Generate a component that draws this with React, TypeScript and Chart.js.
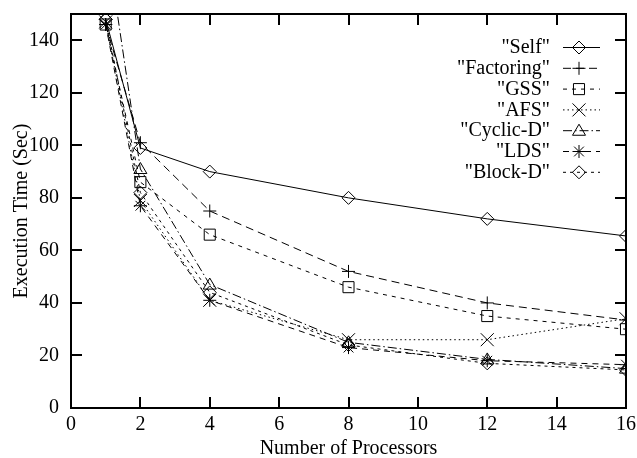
import React, { useEffect, useRef } from "react";
import { Chart, registerables } from "chart.js";

Chart.register(...registerables);

const processors = [1, 2, 4, 8, 12, 16];
const selfTimes = [148, 99, 90, 80, 72, 65.5];
const factoringTimes = [146, 101, 75, 52, 40, 33.5];
const gssTimes = [146, 86, 66, 46, 35, 30];
const afsTimes = [147, 79, 41, 26, 26, 34];
const cyclicTimes = [180, 91, 47, 25, 18.5, 15];
const ldsTimes = [146, 77, 41, 23, 18, 16.5];
const blockTimes = [148, 82, 44, 24, 17, 14.5];

const seriesLabels = ['"Self"', '"Factoring"', '"GSS"', '"AFS"', '"Cyclic-D"', '"LDS"', '"Block-D"'];
const xTickValues = [0, 2, 4, 6, 8, 10, 12, 14, 16];
const yTickValues = [0, 20, 40, 60, 80, 100, 120, 140];

const FONT = "'Liberation Serif', 'DejaVu Serif', serif";
const FSIZE = 20;

function drawMarker(ctx: CanvasRenderingContext2D, style: string, x: number, y: number, r: number) {
  ctx.beginPath();
  if (style === "diamond") {
    ctx.moveTo(x, y - r);
    ctx.lineTo(x + r, y);
    ctx.lineTo(x, y + r);
    ctx.lineTo(x - r, y);
    ctx.closePath();
  } else if (style === "plus") {
    ctx.moveTo(x - r, y);
    ctx.lineTo(x + r, y);
    ctx.moveTo(x, y - r);
    ctx.lineTo(x, y + r);
  } else if (style === "square") {
    ctx.rect(x - r * 0.85, y - r * 0.85, r * 1.7, r * 1.7);
  } else if (style === "cross") {
    ctx.moveTo(x - r, y - r);
    ctx.lineTo(x + r, y + r);
    ctx.moveTo(x - r, y + r);
    ctx.lineTo(x + r, y - r);
  } else if (style === "triangle") {
    ctx.moveTo(x, y - r);
    ctx.lineTo(x + r, y + r * 0.7);
    ctx.lineTo(x - r, y + r * 0.7);
    ctx.closePath();
  } else if (style === "star") {
    ctx.moveTo(x - r, y);
    ctx.lineTo(x + r, y);
    ctx.moveTo(x, y - r);
    ctx.lineTo(x, y + r);
    ctx.moveTo(x - r * 0.75, y - r * 0.75);
    ctx.lineTo(x + r * 0.75, y + r * 0.75);
    ctx.moveTo(x - r * 0.75, y + r * 0.75);
    ctx.lineTo(x + r * 0.75, y - r * 0.75);
  }
  ctx.stroke();
}

const markerStyles = ["diamond", "plus", "square", "cross", "triangle", "star", "diamond"];
const dashes: number[][] = [[], [8, 5], [4, 5], [1.5, 3], [9, 3, 1.5, 3], [6, 5], [3, 4]];

const markerPlugin = {
  id: "gnuMarkers",
  afterDatasetsDraw(chart: any) {
    const ctx = chart.ctx as CanvasRenderingContext2D;
    const area = chart.chartArea;
    ctx.save();
    ctx.beginPath();
    ctx.rect(area.left - 1, area.top - 1, area.right - area.left + 2, area.bottom - area.top + 2);
    ctx.clip();
    ctx.strokeStyle = "#000";
    ctx.lineWidth = 1;
    ctx.setLineDash([]);
    chart.data.datasets.forEach((ds: any, i: number) => {
      const meta = chart.getDatasetMeta(i);
      meta.data.forEach((pt: any) => {
        if (pt.y < area.top - 8) return;
        drawMarker(ctx, markerStyles[i], pt.x, pt.y, 6.5);
      });
    });
    ctx.restore();
  },
};

const framePlugin = {
  id: "gnuFrame",
  afterDraw(chart: any) {
    const ctx = chart.ctx as CanvasRenderingContext2D;
    const { left, right, top, bottom } = chart.chartArea;
    const xs = chart.scales.x;
    const ys = chart.scales.y;
    ctx.save();
    ctx.strokeStyle = "#000";
    ctx.lineWidth = 2;
    ctx.setLineDash([]);
    ctx.strokeRect(left, top, right - left, bottom - top);
    const tl = 11;
    ctx.beginPath();
    xTickValues.forEach((v) => {
      const px = Math.round(xs.getPixelForValue(v));
      ctx.moveTo(px, bottom);
      ctx.lineTo(px, bottom - tl);
      ctx.moveTo(px, top);
      ctx.lineTo(px, top + tl);
    });
    yTickValues.forEach((v) => {
      const py = Math.round(ys.getPixelForValue(v));
      ctx.moveTo(left, py);
      ctx.lineTo(left + tl, py);
      ctx.moveTo(right, py);
      ctx.lineTo(right - tl, py);
    });
    ctx.stroke();

    // legend
    const textRight = 550;
    const lineStart = 563;
    const lineEnd = 600;
    const markX = 579;
    const row0 = 47;
    const rowH = 20.8;
    ctx.font = `${FSIZE}px ${FONT}`;
    ctx.fillStyle = "#000";
    ctx.textAlign = "right";
    ctx.textBaseline = "middle";
    seriesLabels.forEach((label, i) => {
      const y = row0 + i * rowH;
      ctx.fillText(label, textRight, y + 1);
      ctx.lineWidth = 1;
      ctx.setLineDash(dashes[i]);
      ctx.beginPath();
      ctx.moveTo(lineStart, y + 0.5);
      ctx.lineTo(lineEnd, y + 0.5);
      ctx.stroke();
      ctx.setLineDash([]);
      drawMarker(ctx, markerStyles[i], markX, y + 0.5, 6.5);
    });
    ctx.restore();
  },
};

export default function App() {
  const ref = useRef<HTMLCanvasElement | null>(null);
  useEffect(() => {
    document.body.style.margin = "0";
    const canvas = ref.current;
    if (!canvas) return;
    const allSeries = [selfTimes, factoringTimes, gssTimes, afsTimes, cyclicTimes, ldsTimes, blockTimes];
    const chart = new Chart(canvas, {
      type: "line",
      data: {
        datasets: allSeries.map((vals, i) => ({
          label: seriesLabels[i],
          data: processors.map((p, j) => ({ x: p, y: vals[j] })),
          borderColor: "#000",
          backgroundColor: "#000",
          borderWidth: 1,
          borderDash: dashes[i],
          pointRadius: 0,
          pointHoverRadius: 0,
          tension: 0,
          fill: false,
        })),
      },
      options: {
        responsive: false,
        animation: false,
        events: [],
        layout: { padding: { top: 14, right: 11, left: 0, bottom: 0 } },
        plugins: {
          legend: { display: false },
          tooltip: { enabled: false },
        },
        scales: {
          x: {
            type: "linear",
            min: 0,
            max: 16,
            afterBuildTicks: (s: any) => {
              s.ticks = xTickValues.map((v) => ({ value: v }));
            },
            afterFit: (s: any) => {
              s.height = 50;
              s.paddingLeft = 0;
              s.paddingRight = 0;
            },
            grid: { display: false, drawTicks: false },
            border: { display: false },
            ticks: {
              color: "#000",
              padding: 5,
              maxRotation: 0,
              font: { family: FONT, size: FSIZE },
            },
            title: {
              display: true,
              text: "Number of Processors",
              color: "#000",
              padding: { top: 0, bottom: -3 },
              font: { family: FONT, size: FSIZE },
            },
          },
          y: {
            type: "linear",
            min: 0,
            max: 150,
            afterBuildTicks: (s: any) => {
              s.ticks = yTickValues.map((v) => ({ value: v }));
            },
            afterFit: (s: any) => {
              s.width = 71;
              s.paddingTop = 0;
              s.paddingBottom = 0;
            },
            grid: { display: false, drawTicks: false },
            border: { display: false },
            ticks: {
              color: "#000",
              padding: 12,
              font: { family: FONT, size: FSIZE },
            },
            title: {
              display: true,
              text: "Execution Time (Sec)",
              color: "#000",
              padding: { top: 10, bottom: 0 },
              font: { family: FONT, size: FSIZE },
            },
          },
        },
      },
      plugins: [markerPlugin, framePlugin],
    });
    return () => chart.destroy();
  }, []);
  return (
    <div style={{ width: 637, height: 458 }}>
      <canvas ref={ref} width={637} height={458} style={{ display: "block" }} />
    </div>
  );
}
